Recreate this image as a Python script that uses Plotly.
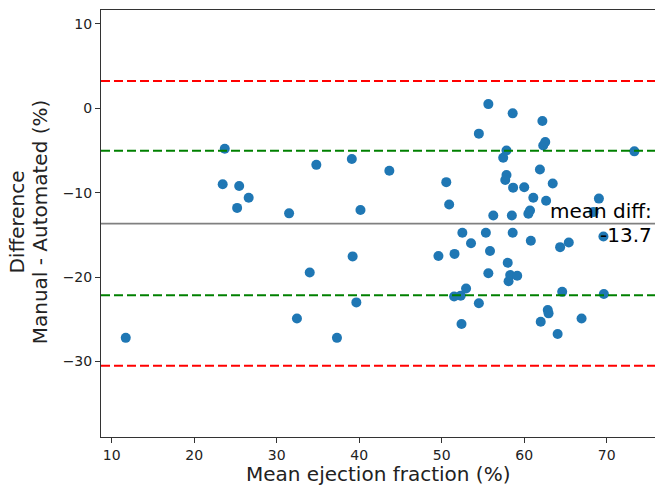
import plotly.graph_objects as go

# Bland-Altman data: mean ejection fraction (%) and difference manual - automated (%)
mean_ef = [11.7, 23.7, 23.45, 25.45, 26.6, 25.2, 31.5, 32.45, 34.0, 34.8,
           37.3, 39.1, 39.2, 39.65, 40.15, 43.65, 49.6, 50.55, 50.9, 51.55,
           51.5, 52.3, 52.4, 52.5, 52.95, 53.55, 54.5, 54.5, 55.35, 55.65,
           55.65, 55.85, 56.25, 57.45, 57.85, 57.85, 57.7, 58.0, 58.1, 58.3,
           58.6, 58.65, 58.5, 58.6, 59.15, 60.0, 60.5, 60.7, 60.8, 61.1,
           61.9, 62.0, 62.2, 62.3, 62.55, 62.65, 62.85, 62.95, 63.45, 64.05,
           64.35, 64.6, 65.4, 66.95, 68.4, 69.05, 69.6, 69.65, 73.35]
diff_ef = [-27.2, -4.8, -9.0, -9.2, -10.6, -11.8, -12.45, -24.9, -19.45, -6.7,
           -27.2, -6.0, -17.55, -23.0, -12.05, -7.4, -17.5, -8.75, -11.4, -17.25,
           -22.3, -22.2, -25.55, -14.75, -21.35, -16.0, -3.0, -23.1, -14.75, 0.5,
           -19.55, -16.9, -12.7, -5.85, -5.0, -7.9, -8.5, -18.3, -20.5, -19.75,
           -0.6, -9.4, -12.7, -14.75, -19.85, -9.35, -12.5, -12.1, -15.7, -10.6,
           -7.25, -25.3, -1.5, -4.4, -4.0, -10.95, -23.9, -24.3, -8.9, -26.75,
           -16.45, -21.75, -15.9, -24.9, -12.3, -10.7, -15.2, -22.0, -5.1]

mean_diff = -13.66
sd_limits = [-5.02, -22.16]      # mean +/- 1 SD (green)
loa_limits = [3.23, -30.5]       # mean +/- 1.96 SD (red)

x_ticks = [10, 20, 30, 40, 50, 60, 70]
y_ticks = [10, 0, -10, -20, -30]

FONT = "DejaVu Sans"
TXT = "#222222"
AX = "#333333"

fig = go.Figure()
fig.add_trace(go.Scatter(
    x=mean_ef, y=diff_ef, mode="markers",
    marker=dict(color="#1f77b4", size=10, line=dict(width=0)),
    showlegend=False, hoverinfo="skip"))

fig.add_hline(y=mean_diff, line=dict(color="#808080", width=1.8), layer="above")
for v in sd_limits:
    fig.add_hline(y=v, line=dict(color="#008000", width=2, dash="9px,4px"), layer="above")
for v in loa_limits:
    fig.add_hline(y=v, line=dict(color="#ff0000", width=2, dash="9px,4px"), layer="above")

# mean difference label (two right-aligned lines around the mean line)
fig.add_annotation(
    x=1, xref="paper", xanchor="right", y=mean_diff, yref="y", yanchor="middle",
    text="mean diff:", showarrow=False,
    font=dict(family=FONT, size=20, color="#000000"), xshift=-1, yshift=13)
fig.add_annotation(
    x=1, xref="paper", xanchor="right", y=mean_diff, yref="y", yanchor="middle",
    text="%.1f" % mean_diff, showarrow=False,
    font=dict(family=FONT, size=20, color="#000000"), xshift=-1, yshift=-11)

# axis titles as annotations for exact placement
fig.add_annotation(
    x=0.5, xref="paper", y=-0.087, yref="paper", yanchor="middle", xanchor="center",
    text="Mean ejection fraction (%)", showarrow=False,
    font=dict(family=FONT, size=20, color=TXT))
fig.add_annotation(
    x=-0.151, xref="paper", y=0.503, yref="paper", xanchor="center", yanchor="middle",
    text="Difference", showarrow=False, textangle=-90,
    font=dict(family=FONT, size=20, color=TXT))
fig.add_annotation(
    x=-0.110, xref="paper", y=0.503, yref="paper", xanchor="center", yanchor="middle",
    text="Manual - Automated (%)", showarrow=False, textangle=-90,
    font=dict(family=FONT, size=20, color=TXT))

fig.update_layout(
    width=655, height=491,
    margin=dict(l=101, r=0, t=10, b=54),
    paper_bgcolor="white", plot_bgcolor="white",
    font=dict(family=FONT, size=14, color=TXT),
    showlegend=False,
    xaxis=dict(range=[8.70, 75.85], tickvals=x_ticks, showgrid=False, zeroline=False,
               showline=True, linecolor=AX, linewidth=1, mirror=True,
               ticks="outside", ticklen=5, tickcolor=AX,
               tickfont=dict(family=FONT, size=14, color=TXT)),
    yaxis=dict(range=[-38.95, 11.65], tickvals=y_ticks, showgrid=False, zeroline=False,
               showline=True, linecolor=AX, linewidth=1, mirror=False,
               ticks="outside", ticklen=5, tickcolor=AX,
               tickfont=dict(family=FONT, size=14, color=TXT)),
)

fig.write_html("out.html", config={"displayModeBar": False},
               post_script="document.body.style.margin='0';document.body.style.overflow='hidden';")
